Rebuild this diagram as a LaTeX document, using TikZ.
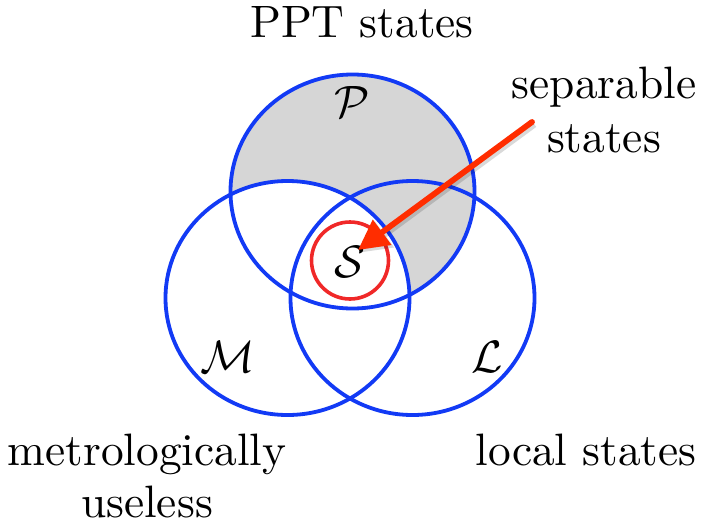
\documentclass[tikz,border=0pt]{standalone}
\usepackage{fontspec}
\setmainfont{lmroman10-regular.otf}
\usetikzlibrary{shapes.geometric,arrows.meta}
\definecolor{vblue}{RGB}{18,58,245}
\definecolor{vred}{RGB}{240,40,40}
\definecolor{arrred}{RGB}{255,45,0}
\definecolor{vgray}{RGB}{214,214,214}
\begin{document}
\begin{tikzpicture}[x=1pt,y=-1pt,
  setellipse/.style={ellipse,minimum width=244pt,minimum height=234pt,inner sep=0pt},
  setline/.style={draw=vblue,line width=3.8pt},
  lbl/.style={font=\fontsize{45.4}{52}\selectfont,inner sep=0pt},
  caltext/.style={inner sep=0pt,scale=4.54}]
\useasboundingbox (0,0) rectangle (701,525);
% gray region P minus M
\fill[vgray] (352.5,191.5) ellipse [x radius=122pt,y radius=117pt];
\fill[white] (287.5,298) ellipse [x radius=122pt,y radius=117pt];
\node[setellipse,setline] (P) at (352.5,191.5) {};
\node[setellipse,setline] (M) at (287.5,298) {};
\node[setellipse,setline] (L) at (412.5,298) {};
\node[circle,minimum size=77pt,inner sep=0pt,draw=vred,line width=3.6pt] (S) at (350,260.5) {};
% labels
\node[caltext] (Pl) at (352,102) {$\mathcal{P}$};
\node[caltext] (Sl) at (350,262) {$\mathcal{S}$};
\node[caltext] (Ml) at (228,357) {$\mathcal{M}$};
\node[caltext] (Ll) at (487,357) {$\mathcal{L}$};
% texts
\node[lbl,anchor=base] (ppt) at (362,37) {PPT states};
\node[lbl,anchor=base] (sep1) at (604,98) {separable};
\node[lbl,anchor=base] (sep2) at (604,152) {states};
\node[lbl,anchor=base] (met1) at (147,465) {metrologically};
\node[lbl,anchor=base] (met2) at (147,517) {useless};
\node[lbl,anchor=base] (loc) at (586,465) {local states};
% arrow
\coordinate (as) at (532,122);
\coordinate (at) at (358,250);
\draw[black,opacity=0.15,line width=6pt,-{Triangle[length=30pt,width=30pt]}] ([shift={(2.5,2.5)}]as) -- ([shift={(2.5,2.5)}]at);
\draw[arrred,line width=5.8pt,line cap=round,-{Triangle[length=30pt,width=30pt]}] (as) -- (at);
\end{tikzpicture}
\end{document}
